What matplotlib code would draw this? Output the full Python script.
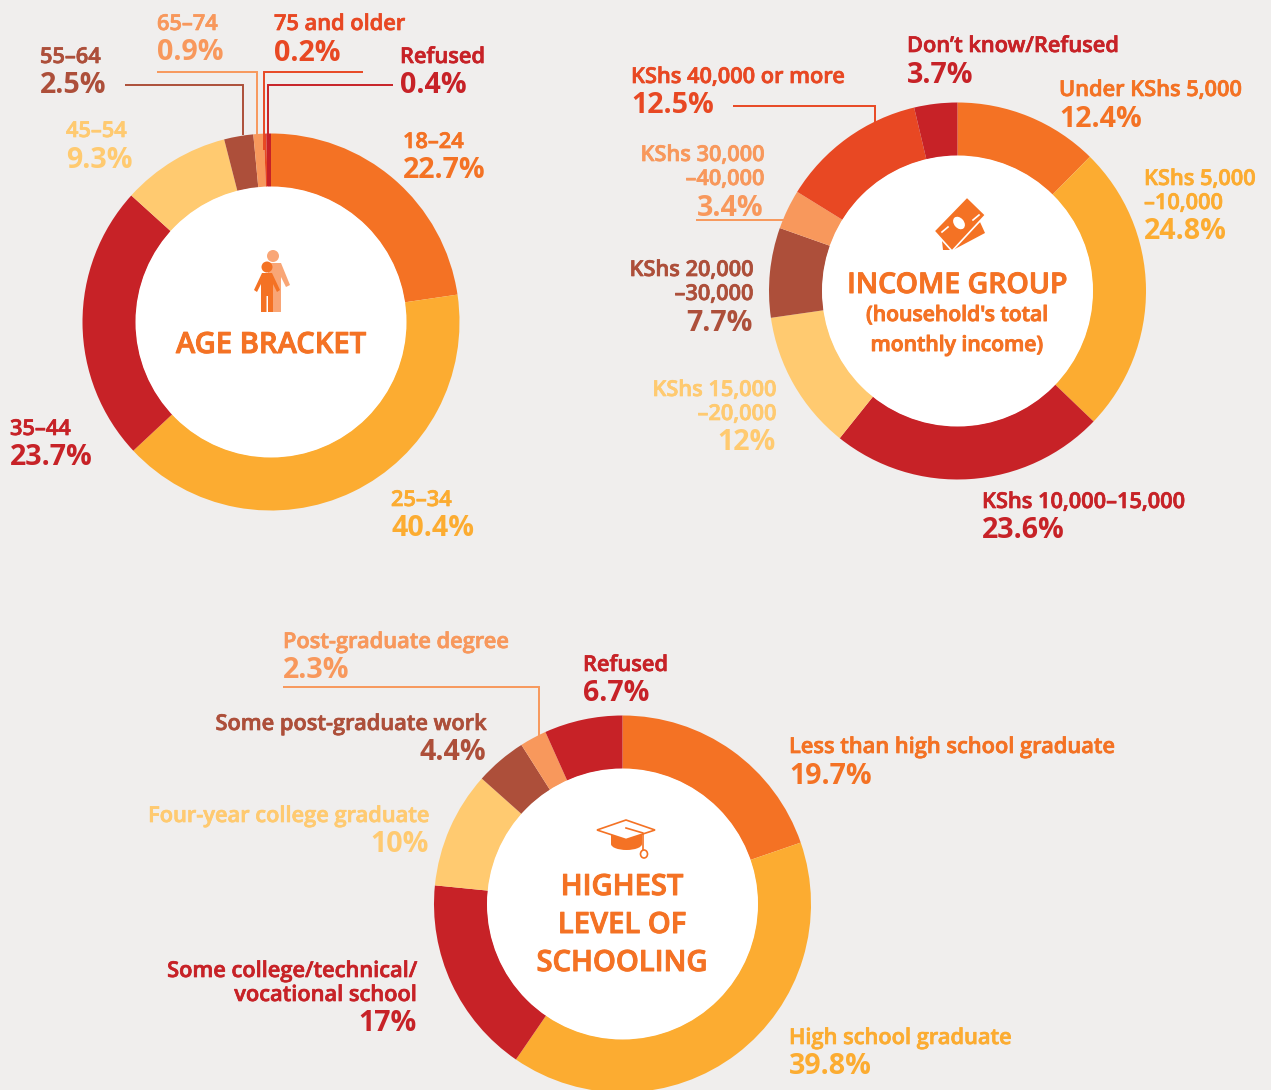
import matplotlib
matplotlib.use("Agg")
import matplotlib.pyplot as plt
import matplotlib.patheffects as pe
from matplotlib.patches import Circle, Polygon, Ellipse

plt.rcParams['font.family'] = ['Open Sans', 'DejaVu Sans']

BG = '#F0EEED'
ORANGE = '#F47224'
YELLOW = '#FCAC31'
RED = '#C72227'
LIGHT = '#FFCA70'
BROWN = '#AD4F3A'
SALMON = '#F8985C'
DEEP = '#E84823'

age_labels = ['18–24', '25–34', '35–44', '45–54', '55–64', '65–74', '75 and older', 'Refused']
age_values = [22.7, 40.4, 23.7, 9.3, 2.5, 0.9, 0.2, 0.4]
age_colors = [ORANGE, YELLOW, RED, LIGHT, BROWN, SALMON, DEEP, RED]

income_labels = ['Under KShs 5,000', 'KShs 5,000\n–10,000', 'KShs 10,000–15,000', 'KShs 15,000\n–20,000',
                 'KShs 20,000\n–30,000', 'KShs 30,000\n–40,000', 'KShs 40,000 or more', 'Don’t know/Refused']
income_values = [12.4, 24.8, 23.6, 12, 7.7, 3.4, 12.5, 3.7]
income_colors = [ORANGE, YELLOW, RED, LIGHT, BROWN, SALMON, DEEP, RED]

school_labels = ['Less than high school graduate', 'High school graduate',
                 'Some college/technical/\nvocational school', 'Four-year college graduate',
                 'Some post-graduate work', 'Post-graduate degree', 'Refused']
school_values = [19.7, 39.8, 17, 10, 4.4, 2.3, 6.7]
school_colors = [ORANGE, YELLOW, RED, LIGHT, BROWN, SALMON, RED]

W, H = 1271, 1090
LABEL_FS = 15.7
VALUE_FS = 20.6
TITLE_FS = 21

fig = plt.figure(figsize=(W / 100, H / 100), dpi=100, facecolor=BG)
ax = fig.add_axes([0, 0, 1, 1])
ax.set_facecolor(BG)


def Y(py):
    return H - py


def pts(coords):
    return [(x, Y(y)) for x, y in coords]


def heavy(color, width):
    return [pe.withStroke(linewidth=width, foreground=color)]


def donut(cx, cy, values, colors):
    ax.pie(values, colors=colors, center=(cx, Y(cy)), radius=188.5, startangle=90,
           counterclock=False, normalize=True, wedgeprops=dict(width=53.5, linewidth=0))
    ax.add_patch(Circle((cx, Y(cy)), 135.5, fc='white', ec='none', zorder=2))


def label(x, y1, text, value, color, y2, ha='left'):
    for i, line in enumerate(text.split('\n')):
        ax.text(x, Y(y1 + 24 * i), line, color=color, fontsize=LABEL_FS, fontweight=600, ha=ha, va='baseline',
                zorder=5, path_effects=heavy(color, 0.5))
    ax.text(x, Y(y2 + 1), f'{value:g}%', color=color, fontsize=VALUE_FS, fontweight='bold', ha=ha, va='baseline',
            zorder=5)


def leader(points, color):
    ax.plot([p[0] for p in points], [Y(p[1]) for p in points], color=color, lw=1.4, zorder=4,
            solid_joinstyle='miter', solid_capstyle='butt')


def title(cx, y, text, fs=TITLE_FS):
    ax.text(cx, Y(y - 1), text, color=ORANGE, fontsize=fs, fontweight=600, ha='center', va='baseline', zorder=5,
            path_effects=heavy(ORANGE, 0.7))


# ---------- Age bracket
donut(271, 322, age_values, age_colors)
leader([(125, 85), (243, 85), (243, 135)], BROWN)
leader([(157, 72), (257, 72), (257, 135)], SALMON)
leader([(363, 72), (263.5, 72), (263.5, 150)], DEEP)
leader([(393, 85), (267.5, 85), (267.5, 186)], RED)
age_pos = [(403, 148, 177, 'left'), (391, 506, 535, 'left'), (10, 435, 464, 'left'), (66, 137, 167, 'left'),
           (40, 63, 92, 'left'), (157, 30, 59, 'left'), (274, 30, 60, 'left'), (400, 63, 92, 'left')]
for t, v, c, (x, y1, y2, ha) in zip(age_labels, age_values, age_colors, age_pos):
    label(x, y1, t, v, c, y2, ha)
title(271, 354, 'AGE BRACKET')

# person icon
ax.add_patch(Circle((273, Y(256)), 6, fc='#F9A676', ec='none', zorder=5))
ax.add_patch(Polygon(pts([(268, 263), (281, 263), (290, 285), (286, 287), (281, 277), (281, 312),
                          (270, 312), (268, 290)]), fc='#F9A676', ec='none', zorder=5))
ax.add_patch(Circle((267, Y(267)), 5.5, fc=ORANGE, ec='none', zorder=6))
ax.add_patch(Polygon(pts([(262, 273), (272, 273), (280, 290), (277, 292), (273, 284), (273, 312),
                          (268, 312), (268, 296), (266.5, 296), (266.5, 312), (261, 312), (261, 284),
                          (257, 292), (254, 290)]), fc=ORANGE, ec='none', zorder=6))

# ---------- Income group
donut(957.5, 291, income_values, income_colors)
leader([(733, 106), (875, 106), (875, 122)], DEEP)
leader([(696, 220), (785, 220)], SALMON)
income_pos = [(1059, 96, 126, 'left'), (1144, 185, 238, 'left'), (982, 508, 537, 'left'), (776, 396, 449, 'right'),
              (753, 276, 330, 'right'), (764, 161, 215, 'right'), (631, 83, 112, 'left'), (907, 52, 82, 'left')]
for t, v, c, (x, y1, y2, ha) in zip(income_labels, income_values, income_colors, income_pos):
    label(x, y1, t, v, c, y2, ha)
title(957, 294, 'INCOME GROUP', 20.5)
title(957, 322, "(household's total", 15.2)
title(957, 352, 'monthly income)', 15.2)

# money icon
ax.add_patch(Polygon(pts([(942, 241), (980, 222), (985, 233), (953, 250), (943, 250)]), fc=ORANGE, ec='none', zorder=5))
ax.add_patch(Polygon(pts([(967, 197), (985.5, 215), (952, 251), (934, 231)]), fc=ORANGE, ec='white', lw=1.2, zorder=6))
ax.add_patch(Ellipse((959, Y(223)), 10, 14, angle=40, fc='white', ec='none', zorder=7))
ax.plot([942, 948], [Y(232), Y(227)], color='white', lw=1.2, zorder=7)
ax.plot([973, 979], [Y(220), Y(215)], color='white', lw=1.2, zorder=7)

# ---------- Highest level of schooling
donut(622.5, 904, school_values, school_colors)
leader([(283, 687), (539, 687), (539, 737)], SALMON)
school_pos = [(789, 753, 783, 'left'), (789, 1044, 1073, 'left'), (417, 977, 1030, 'right'), (429, 822, 851, 'right'),
              (486, 730, 759, 'right'), (283, 648, 677, 'left'), (583, 671, 700, 'left')]
for t, v, c, (x, y1, y2, ha) in zip(school_labels, school_values, school_colors, school_pos):
    label(x, y1, t, v, c, y2, ha)
title(622, 896, 'HIGHEST')
title(622, 934, 'LEVEL OF')
title(622, 972, 'SCHOOLING')

# cap icon
ax.add_patch(Ellipse((626.5, Y(844)), 31, 12, fc=ORANGE, ec='none', zorder=5))
ax.add_patch(Polygon(pts([(611, 834), (642, 834), (642, 844), (611, 844)]), fc=ORANGE, ec='none', zorder=5))
ax.add_patch(Polygon(pts([(597, 830), (626, 820), (655, 830), (626, 839.5)]), fc='white', ec=ORANGE, lw=1.2, zorder=6))
ax.plot([626, 643, 643], [Y(828), Y(833), Y(850)], color=ORANGE, lw=1.2, zorder=7)
ax.add_patch(Ellipse((644, Y(854)), 7, 8, fc='white', ec=ORANGE, lw=1.2, zorder=7))

ax.set_xlim(0, W)
ax.set_ylim(0, H)
ax.set_aspect('auto')
ax.axis('off')
fig.savefig('out.png', dpi=100, facecolor=BG)
